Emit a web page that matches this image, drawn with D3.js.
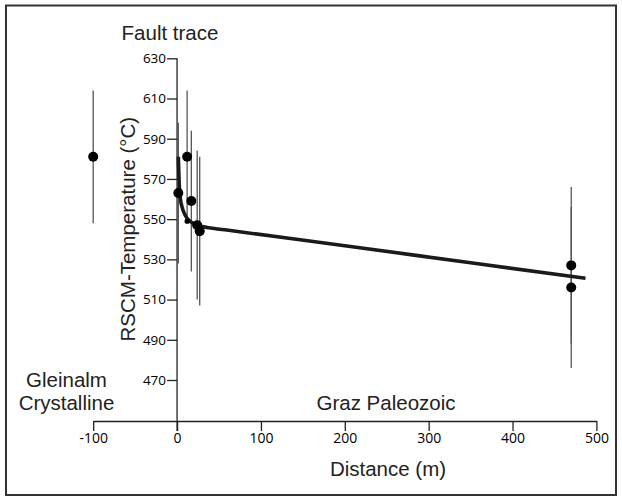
<!DOCTYPE html>
<html>
<head>
<meta charset="utf-8">
<script src="https://cdn.jsdelivr.net/npm/d3@7/dist/d3.min.js"></script>
<style>
  body { margin: 0; background: #fff; }
  svg text { font-family: "Liberation Sans", Arial, sans-serif; fill: #222; }
  .tick text { font-family: "Open Sans", sans-serif; fill: #000; }
  .y-axis .tick text { font-size: 13.5px; }
  .x-axis .tick text { font-size: 14px; }
  .tick line, .domain { stroke: #222; stroke-width: 1.3; }
  .label { font-size: 20.5px; }
</style>
</head>
<body>
<svg id="chart" width="622" height="499"></svg>
<script>
// samples: distance from fault (m), RSCM temperature and its error
var distance = [-100, 1.5, 12, 17, 24, 27, 470, 470];
var temperature = [581, 563, 581, 559, 547, 544, 527, 516];
var error = [33, 35, 33, 35, 37, 37, 39, 40];

// the small extra point next to the fault
var smallPoint = [[12, 549]];

// fitted curve
var fitDistance = [1.5, 2.5, 4, 6, 8, 11, 14, 19, 24, 30, 57, 200, 350, 487];
var fitTemperature = [581, 568, 560, 556, 553.5, 551, 549.5, 548, 547, 546.3, 544.7, 536.8, 528.3, 520.6];

var xTicks = [-100, 0, 100, 200, 300, 400, 500];
var yTicks = [470, 490, 510, 530, 550, 570, 590, 610, 630];

var svg = d3.select("#chart");

var x = d3.scaleLinear()
    .domain([-100, 500])
    .range([93.2, 596.4]);

var y = d3.scaleLinear()
    .domain([470, 630])
    .range([380, 58.3]);

var axisY = 421;

// frame
svg.append("rect")
  .attr("x", 6)
  .attr("y", 5.5)
  .attr("width", 610)
  .attr("height", 489.5)
  .attr("fill", "none")
  .attr("stroke", "#333")
  .attr("stroke-width", 2);

// x axis
var xAxis = d3.axisBottom(x)
    .tickValues(xTicks)
    .tickSize(10)
    .tickSizeOuter(0)
    .tickPadding(2)
    .tickFormat(function(d) { return String(d); });

svg.append("g")
  .attr("class", "x-axis")
  .attr("transform", "translate(0," + axisY + ")")
  .call(xAxis);

// y axis, its line runs down past the x axis
var yAxis = d3.axisLeft(y)
    .tickValues(yTicks)
    .tickSize(10)
    .tickSizeOuter(0)
    .tickPadding(1);

var gy = svg.append("g")
  .attr("class", "y-axis")
  .attr("transform", "translate(" + x(0) + ",0)")
  .call(yAxis);

gy.select(".domain").remove();
gy.append("line")
  .attr("x1", 0).attr("x2", 0)
  .attr("y1", y(630))
  .attr("y2", axisY + 10)
  .attr("stroke", "#222")
  .attr("stroke-width", 1.3);

// error bars
var data = distance.map(function(d, i) {
  return {x: d, t: temperature[i], e: error[i]};
});

svg.append("g")
  .selectAll("line")
  .data(data)
  .enter().append("line")
  .attr("x1", function(d) { return x(d.x); })
  .attr("x2", function(d) { return x(d.x); })
  .attr("y1", function(d) { return y(d.t + d.e); })
  .attr("y2", function(d) { return y(d.t - d.e); })
  .attr("stroke", "#555")
  .attr("stroke-width", 1.3);

// fitted curve
var fit = fitDistance.map(function(d, i) { return [d, fitTemperature[i]]; });

var line = d3.line()
    .x(function(d) { return x(d[0]); })
    .y(function(d) { return y(d[1]); })
    .curve(d3.curveMonotoneX);

svg.append("path")
  .datum(fit)
  .attr("d", line)
  .attr("fill", "none")
  .attr("stroke", "#1a1a1a")
  .attr("stroke-width", 3.6)
  .attr("stroke-linecap", "butt");

// points
svg.append("g")
  .selectAll("circle")
  .data(data)
  .enter().append("circle")
  .attr("cx", function(d) { return x(d.x); })
  .attr("cy", function(d) { return y(d.t); })
  .attr("r", 5)
  .attr("fill", "#000");

svg.append("g")
  .selectAll("circle")
  .data(smallPoint)
  .enter().append("circle")
  .attr("cx", function(d) { return x(d[0]); })
  .attr("cy", function(d) { return y(d[1]); })
  .attr("r", 2.6)
  .attr("fill", "#000");

// labels
svg.append("text")
  .attr("class", "label")
  .attr("x", 170)
  .attr("y", 40)
  .attr("text-anchor", "middle")
  .text("Fault trace");

svg.append("text")
  .attr("class", "label")
  .attr("transform", "translate(135," + ((y(630) + y(470)) / 2 + 10) + ") rotate(-90)")
  .attr("text-anchor", "middle")
  .text("RSCM-Temperature (°C)");

svg.append("text")
  .attr("class", "label")
  .attr("x", 66.5)
  .attr("y", 387)
  .attr("text-anchor", "middle")
  .text("Gleinalm");

svg.append("text")
  .attr("class", "label")
  .attr("x", 66.5)
  .attr("y", 410)
  .attr("text-anchor", "middle")
  .text("Crystalline");

svg.append("text")
  .attr("class", "label")
  .attr("x", 386)
  .attr("y", 410)
  .attr("text-anchor", "middle")
  .text("Graz Paleozoic");

svg.append("text")
  .attr("class", "label")
  .attr("x", 388)
  .attr("y", 476)
  .attr("text-anchor", "middle")
  .text("Distance (m)");
</script>
</body>
</html>
